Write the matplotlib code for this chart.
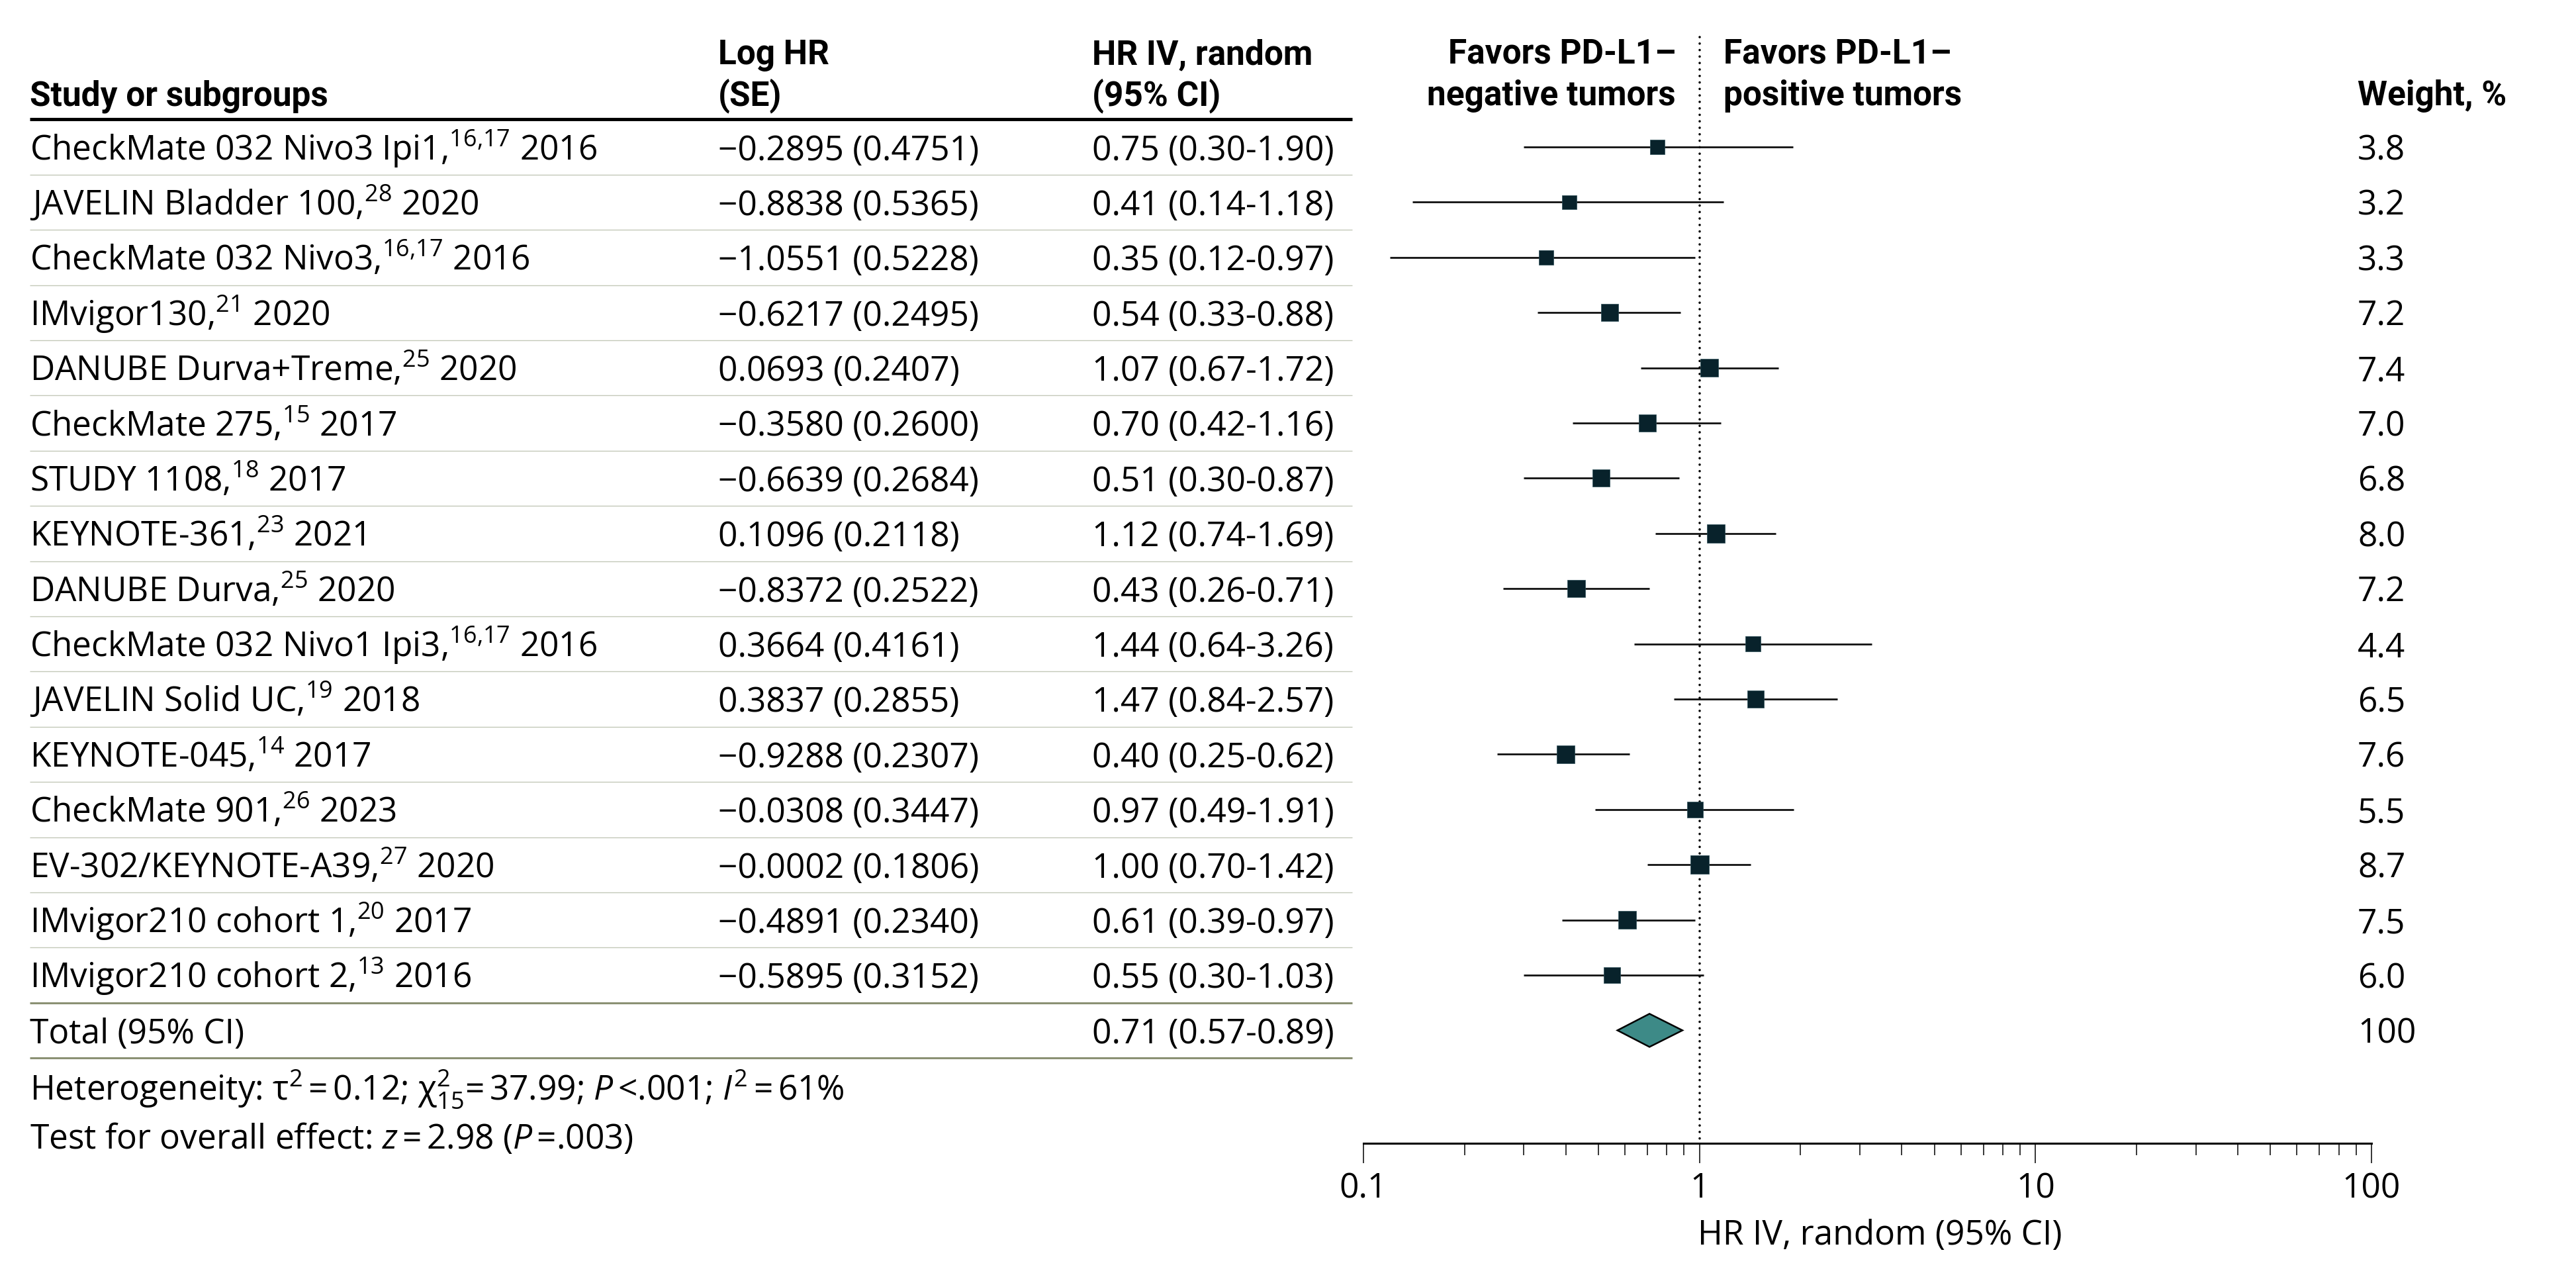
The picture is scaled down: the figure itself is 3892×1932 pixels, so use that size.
import matplotlib
matplotlib.use("Agg")
import matplotlib.pyplot as plt
from matplotlib.patches import Polygon
from matplotlib.ticker import FixedLocator, LogLocator, NullFormatter, FixedFormatter

# ---------------- data ----------------
studies = ["CheckMate 032 Nivo3 Ipi1", "JAVELIN Bladder 100", "CheckMate 032 Nivo3",
           "IMvigor130", "DANUBE Durva+Treme", "CheckMate 275", "STUDY 1108",
           "KEYNOTE-361", "DANUBE Durva", "CheckMate 032 Nivo1 Ipi3", "JAVELIN Solid UC",
           "KEYNOTE-045", "CheckMate 901", "EV-302/KEYNOTE-A39", "IMvigor210 cohort 1",
           "IMvigor210 cohort 2"]
refs = ["16{,}17", "28", "16{,}17", "21", "25", "15", "18", "23", "25", "16{,}17",
        "19", "14", "26", "27", "20", "13"]
years = [2016, 2020, 2016, 2020, 2020, 2017, 2017, 2021, 2020, 2016, 2018, 2017,
         2023, 2020, 2017, 2016]
log_hr = [-0.2895, -0.8838, -1.0551, -0.6217, 0.0693, -0.3580, -0.6639, 0.1096,
          -0.8372, 0.3664, 0.3837, -0.9288, -0.0308, -0.0002, -0.4891, -0.5895]
se = [0.4751, 0.5365, 0.5228, 0.2495, 0.2407, 0.2600, 0.2684, 0.2118, 0.2522,
      0.4161, 0.2855, 0.2307, 0.3447, 0.1806, 0.2340, 0.3152]
hr = [0.75, 0.41, 0.35, 0.54, 1.07, 0.70, 0.51, 1.12, 0.43, 1.44, 1.47, 0.40,
      0.97, 1.00, 0.61, 0.55]
ci_lo = [0.30, 0.14, 0.12, 0.33, 0.67, 0.42, 0.30, 0.74, 0.26, 0.64, 0.84, 0.25,
         0.49, 0.70, 0.39, 0.30]
ci_hi = [1.90, 1.18, 0.97, 0.88, 1.72, 1.16, 0.87, 1.69, 0.71, 3.26, 2.57, 0.62,
         1.91, 1.42, 0.97, 1.03]
weights = [3.8, 3.2, 3.3, 7.2, 7.4, 7.0, 6.8, 8.0, 7.2, 4.4, 6.5, 7.6, 5.5, 8.7,
           7.5, 6.0]
total_hr, total_lo, total_hi = 0.71, 0.57, 0.89
total_weight = "100"
xticks = [0.1, 1, 10, 100]
xtick_labels = ["0.1", "1", "10", "100"]

# ---------------- style ----------------
plt.rcParams["font.family"] = ["Open Sans", "DejaVu Sans"]
plt.rcParams["mathtext.fontset"] = "custom"
plt.rcParams["mathtext.rm"] = "Open Sans"
plt.rcParams["mathtext.it"] = "Open Sans:italic"
plt.rcParams["mathtext.bf"] = "Open Sans:bold"

W, H = 3892, 1933
DPI = 100
FS = 37
HEAD = dict(family=["Roboto", "DejaVu Sans"], fontweight="bold", fontsize=FS)
BODY = dict(fontsize=FS)
Y0, DY = 223.0, 83.4
BASE = 18.5  # baseline offset from visual center (px)

fig = plt.figure(figsize=(W / DPI, H / DPI), dpi=DPI)
ax_t = fig.add_axes([0, 0, 1, 1])
ax_t.set_xlim(0, W)
ax_t.set_ylim(H, 0)
ax_t.axis("off")


def ry(r):
    return Y0 + DY * r


def txt(x, yc, s, ha="left", **kw):
    ax_t.text(x, yc + BASE, s, ha=ha, va="baseline", **kw)


X_STUDY, X_LOG, X_HR, X_W = 45, 1085, 1650, 3562
TAB_L, TAB_R = 45, 2043

# headers
txt(X_STUDY, 141, "Study or subgroups", **HEAD)
txt(X_LOG, 79, "Log HR", **HEAD)
txt(X_LOG, 141, "(SE)", **HEAD)
txt(X_HR, 79, "HR IV, random", **HEAD)
txt(X_HR, 141, "(95% CI)", **HEAD)
txt(2532, 77, "Favors PD-L1\u2013", ha="right", **HEAD)
txt(2532, 140, "negative tumors", ha="right", **HEAD)
txt(2604, 77, "Favors PD-L1\u2013", **HEAD)
txt(2604, 140, "positive tumors", **HEAD)
txt(X_W, 140, "Weight, %", **HEAD)

# rules
ax_t.plot([TAB_L, TAB_R], [181, 181], color="black", lw=3.6, solid_capstyle="butt")
n = len(studies)
for i in range(n - 1):
    y = ry(i + 0.5)
    ax_t.plot([TAB_L, TAB_R], [y, y], color="#c3c8b8", lw=1.0, solid_capstyle="butt")
for r in (n - 0.5, n + 0.5):
    ax_t.plot([TAB_L, TAB_R], [ry(r), ry(r)], color="#8b9174", lw=2.2,
              solid_capstyle="butt")

# rows
for i in range(n):
    yc = ry(i)
    txt(X_STUDY, yc, f"{studies[i]},$^{{\\mathrm{{{refs[i]}}}}}$ {years[i]}", **BODY)
    txt(X_LOG, yc, f"{log_hr[i]:.4f} ({se[i]:.4f})".replace("-", "\u2212"), **BODY)
    txt(X_HR, yc, f"{hr[i]:.2f} ({ci_lo[i]:.2f}-{ci_hi[i]:.2f})", **BODY)
    txt(X_W, yc, f"{weights[i]:.1f}", **BODY)

yt = ry(n)
txt(X_STUDY, yt, "Total (95% CI)", **BODY)
txt(X_HR, yt, f"{total_hr:.2f} ({total_lo:.2f}-{total_hi:.2f})", **BODY)
txt(X_W, yt, total_weight, **BODY)

txt(X_STUDY, 1643,
    r"Heterogeneity: τ$^{2}\,$=$\,$0.12; $\mathrm{χ}^{2}_{\mathrm{15}}$=$\,$37.99; "
    r"$P\,$<.001; $I^{2}\,$=$\,$61%",
    **BODY)
txt(X_STUDY, 1717, r"Test for overall effect: $z\,$=$\,$2.98 ($P\,$=.003)", **BODY)

# ---------------- forest axes ----------------
AX_L, AX_R, AX_B, AX_T = 2060, 3583, 1728, 40
ax = fig.add_axes([AX_L / W, (H - AX_B) / H, (AX_R - AX_L) / W, (AX_B - AX_T) / H])
ax.patch.set_alpha(0)
ax.set_xscale("log")
ax.set_xlim(0.1, 100)
r_bot = (AX_B - Y0) / DY
r_top = (AX_T - Y0) / DY
ax.set_ylim(r_bot, r_top)
for s in ("left", "right", "top"):
    ax.spines[s].set_visible(False)
ax.spines["bottom"].set_linewidth(2.2)
ax.set_yticks([])
ax.xaxis.set_major_locator(FixedLocator(xticks))
ax.xaxis.set_major_formatter(FixedFormatter(xtick_labels))
ax.xaxis.set_minor_locator(LogLocator(base=10, subs=range(2, 10)))
ax.xaxis.set_minor_formatter(NullFormatter())
ax.tick_params(axis="x", which="major", length=21.6, width=1.1, direction="out",
               pad=8.7, labelsize=FS)
ax.tick_params(axis="x", which="minor", length=13, width=1.1, direction="out")

rows = list(range(n))
# reference line at HR = 1
ax.plot([1, 1], [(57 - Y0) / DY, r_bot], color="black", lw=2.6,
        linestyle=(0, (0.01, 2.7)), dash_capstyle="round", zorder=1, clip_on=False)
ax.hlines(rows, ci_lo, ci_hi, color="#111111", lw=2.0, zorder=2)
sizes = [((17.4 + 1.25 * w) * 0.72) ** 2 for w in weights]
ax.scatter(hr, rows, marker="s", s=sizes, color="#08222b", edgecolors="#2b4d57",
           linewidths=0.5, zorder=3)
half = 0.3
diamond = Polygon([(total_lo, n), (total_hr, n - half), (total_hi, n),
                   (total_hr, n + half)], closed=True, facecolor="#3d8a87",
                  edgecolor="black", lw=1.8, zorder=3)
ax.add_patch(diamond)

txt(2840, 1862, "HR IV, random (95% CI)", ha="center", **BODY)

fig.savefig("out.png", dpi=DPI)
